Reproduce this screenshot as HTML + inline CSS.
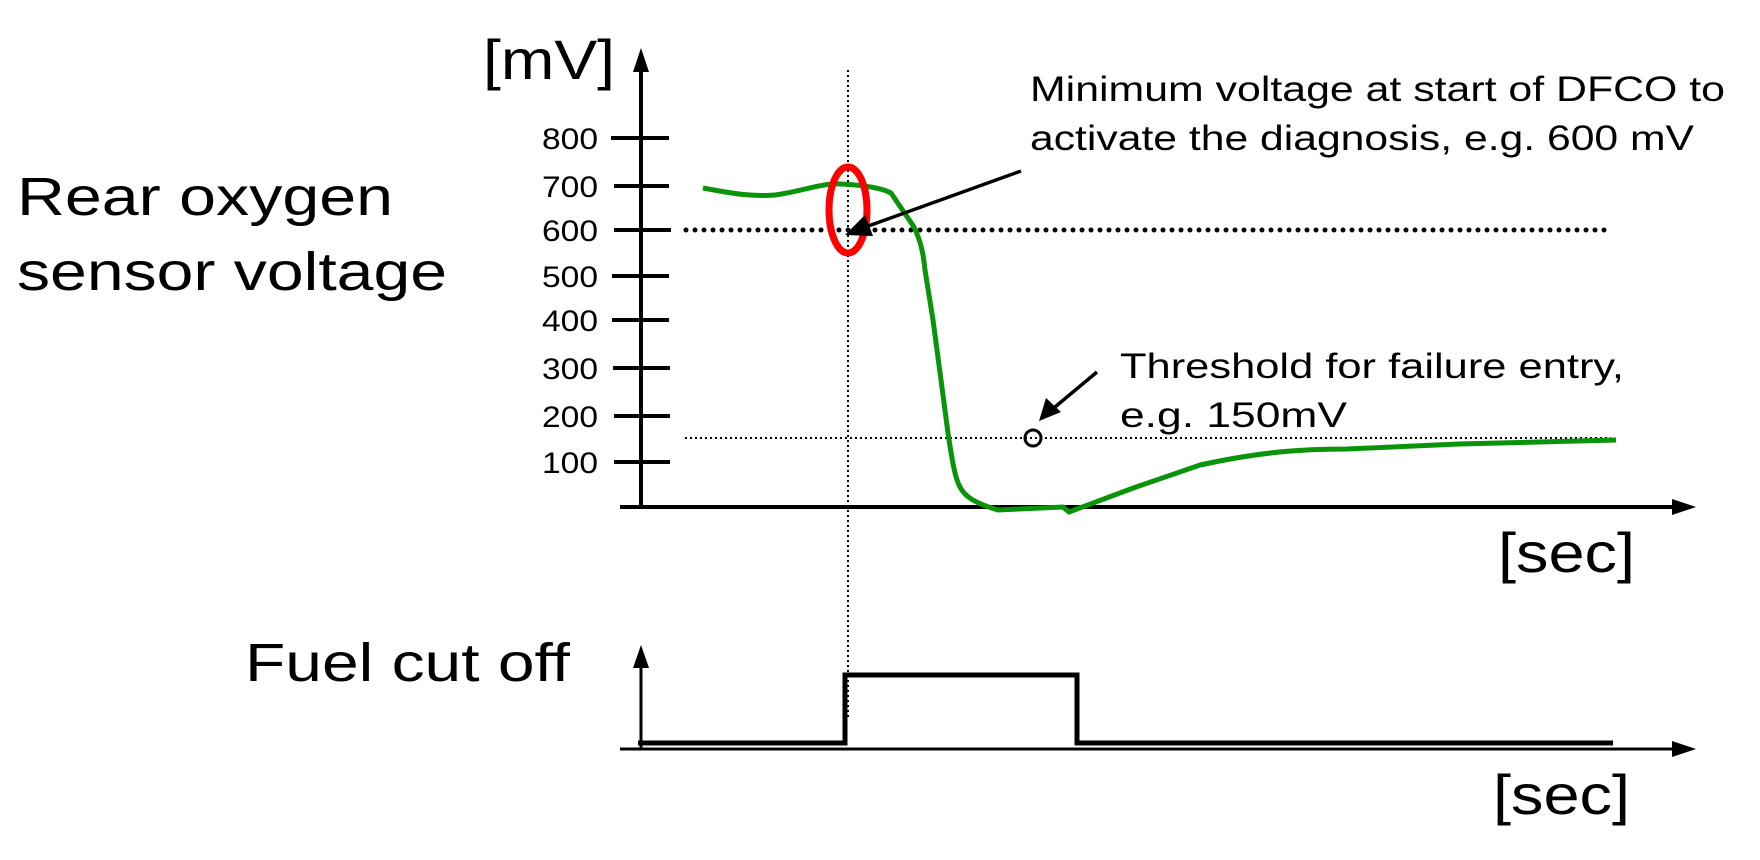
<!DOCTYPE html>
<html><head><style>html,body{margin:0;padding:0;background:#fff}svg{display:block}text{font-family:"Liberation Sans",sans-serif;fill:#000}</style></head>
<body>
<svg width="1760" height="860" viewBox="0 0 1760 860" xmlns="http://www.w3.org/2000/svg">
<line x1="641" y1="60" x2="641" y2="507" stroke="#000" stroke-width="4"/>
<path d="M641,48 L633,72 L649,72z"/>
<line x1="620" y1="507" x2="1680" y2="507" stroke="#000" stroke-width="4"/>
<path d="M1696,507 L1672,499 L1672,515z"/>
<g stroke="#000" stroke-width="4">
<line x1="611" y1="138" x2="669" y2="138"/><line x1="614" y1="186" x2="669" y2="186"/><line x1="614" y1="230" x2="671" y2="230"/><line x1="612" y1="276" x2="669" y2="276"/><line x1="612" y1="320" x2="669" y2="320"/><line x1="613" y1="368" x2="670" y2="368"/><line x1="614" y1="416" x2="670" y2="416"/><line x1="614" y1="462" x2="670" y2="462"/>
</g>
<g font-size="30" text-anchor="end">
<text x="598" y="149" textLength="56" lengthAdjust="spacingAndGlyphs">800</text><text x="598" y="197" textLength="56" lengthAdjust="spacingAndGlyphs">700</text><text x="598" y="241" textLength="56" lengthAdjust="spacingAndGlyphs">600</text><text x="598" y="287" textLength="56" lengthAdjust="spacingAndGlyphs">500</text><text x="598" y="331" textLength="56" lengthAdjust="spacingAndGlyphs">400</text><text x="598" y="379" textLength="56" lengthAdjust="spacingAndGlyphs">300</text><text x="598" y="427" textLength="56" lengthAdjust="spacingAndGlyphs">200</text><text x="598" y="473" textLength="56" lengthAdjust="spacingAndGlyphs">100</text>
</g>
<line x1="686" y1="230" x2="1611" y2="230" stroke="#000" stroke-width="5" stroke-dasharray="0,9" stroke-linecap="round"/>
<line x1="685" y1="438" x2="1611" y2="438" stroke="#000" stroke-width="2" stroke-dasharray="2,3"/>
<line x1="848" y1="70" x2="848" y2="718" stroke="#000" stroke-width="2" stroke-dasharray="2,3"/>
<path d="M703,188 C730,193 750,197 775,195 C800,192 820,183 841,184 C860,185 880,187 891,193 L914,227 C920,240 923,250 925,270 L933,320 L941,380 L948,433 C952,460 955,478 960,487 C965,497 975,503 998,510 L1063,507 L1069,512 L1136,487 L1200,465 C1260,452 1300,449 1347,449 L1459,444 L1616,440" fill="none" stroke="#0a940a" stroke-width="5"/>
<ellipse cx="848" cy="210" rx="19" ry="43" fill="none" stroke="#f00" stroke-width="7"/>
<circle cx="1033" cy="438" r="8" fill="none" stroke="#000" stroke-width="3"/>
<line x1="1021" y1="171" x2="860" y2="229" stroke="#000" stroke-width="3.5"/>
<path d="M845,235 L865,215 L873,236z"/>
<line x1="1097" y1="372" x2="1049" y2="412" stroke="#000" stroke-width="3.5"/>
<path d="M1039,421 L1046,398 L1061,412z"/>
<g font-size="56"><text x="483" y="79" textLength="132" lengthAdjust="spacingAndGlyphs">[mV]</text><text x="1498" y="572" textLength="137" lengthAdjust="spacingAndGlyphs">[sec]</text><text x="1493" y="814" textLength="137" lengthAdjust="spacingAndGlyphs">[sec]</text></g>
<g font-size="54"><text x="17" y="215" textLength="376" lengthAdjust="spacingAndGlyphs">Rear oxygen</text><text x="17" y="290" textLength="430" lengthAdjust="spacingAndGlyphs">sensor voltage</text><text x="245" y="681" textLength="325" lengthAdjust="spacingAndGlyphs">Fuel cut off</text></g>
<g font-size="35"><text x="1030" y="101" textLength="695" lengthAdjust="spacingAndGlyphs">Minimum voltage at start of DFCO to</text><text x="1030" y="150" textLength="664" lengthAdjust="spacingAndGlyphs">activate the diagnosis, e.g. 600 mV</text><text x="1120" y="378" textLength="504" lengthAdjust="spacingAndGlyphs">Threshold for failure entry,</text><text x="1120" y="427" textLength="227" lengthAdjust="spacingAndGlyphs">e.g. 150mV</text></g>
<line x1="641" y1="660" x2="641" y2="749" stroke="#000" stroke-width="3"/>
<path d="M641,645 L633,668 L649,668z"/>
<line x1="620" y1="749" x2="1680" y2="749" stroke="#000" stroke-width="3"/>
<path d="M1696,749 L1672,741 L1672,757z"/>
<path d="M638,743 L845,743 L845,675 L1077,675 L1077,743 L1613,743" fill="none" stroke="#000" stroke-width="5"/>
</svg>
</body></html>
